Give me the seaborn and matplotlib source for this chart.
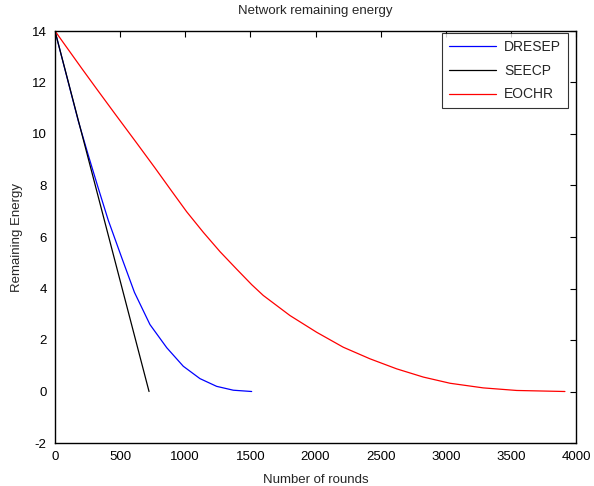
import matplotlib
matplotlib.use("Agg")
import matplotlib.pyplot as plt
import seaborn as sns
import pandas as pd

# Data
dresep_rounds = [0, 179, 256, 332, 409, 512, 610, 729, 858, 985, 1113, 1241, 1369, 1510]
dresep_energy = [14, 10.5, 9.17, 7.9, 6.65, 5.2, 3.85, 2.6, 1.7, 0.98, 0.5, 0.2, 0.05, 0.0]

seecp_rounds = [0, 722]
seecp_energy = [14, 0.0]

eochr_rounds = [0, 205, 320, 461, 627, 768, 896, 1011, 1139, 1267, 1395, 1510, 1599,
                1804, 2009, 2213, 2418, 2623, 2828, 3033, 3288, 3545, 3915]
eochr_energy = [14, 12.55, 11.75, 10.78, 9.65, 8.68, 7.78, 6.98, 6.18, 5.43, 4.75, 4.15, 3.73,
                2.95, 2.30, 1.72, 1.27, 0.88, 0.56, 0.32, 0.14, 0.04, 0.0]

series_names = ["DRESEP", "SEECP", "EOCHR"]
series_colors = ["#0000ff", "#000000", "#ff0000"]
x_ticks = list(range(0, 4001, 500))
y_ticks = list(range(-2, 15, 2))

sns.set_theme(style="white")
plt.rcParams["font.family"] = ["Liberation Sans", "DejaVu Sans"]
plt.rcParams["axes.unicode_minus"] = False

frames = []
for name, xs, ys in zip(series_names,
                        [dresep_rounds, seecp_rounds, eochr_rounds],
                        [dresep_energy, seecp_energy, eochr_energy]):
    frames.append(pd.DataFrame({"rounds": xs, "energy": ys, "series": name}))
df = pd.concat(frames, ignore_index=True)

fig = plt.figure(figsize=(5.94, 4.86), dpi=100)
ax = fig.add_axes([55 / 594, 43 / 486, 521 / 594, 412 / 486])

sns.lineplot(data=df, x="rounds", y="energy", hue="series", hue_order=series_names,
             palette=dict(zip(series_names, series_colors)), ax=ax,
             linewidth=0.9, sort=False, estimator=None)

ax.set_xlim(0, 4000)
ax.set_ylim(-2, 14)
ax.set_xticks(x_ticks)
ax.set_yticks(y_ticks)
ax.tick_params(direction="in", length=4, width=0.8, top=True, right=True,
               labelsize=9.5, colors="black", pad=6)
for s in ax.spines.values():
    s.set_color("black")
    s.set_linewidth(1.0)

ax.set_title("Network remaining energy", fontsize=9.5, pad=12.5)
ax.set_xlabel("Number of rounds", fontsize=9.5, labelpad=7.5)
ax.set_ylabel("Remaining Energy", fontsize=9.5, labelpad=6)

leg = ax.legend(loc="upper right", bbox_to_anchor=(0.985, 0.995), fontsize=10,
                frameon=True, fancybox=False, borderaxespad=0.0, handlelength=3.4,
                borderpad=0.5, labelspacing=0.7, handletextpad=0.6)
leg.get_frame().set_edgecolor("black")
leg.get_frame().set_linewidth(0.8)
for h in leg.get_lines():
    h.set_linewidth(0.9)

fig.savefig("out.png", dpi=100)
